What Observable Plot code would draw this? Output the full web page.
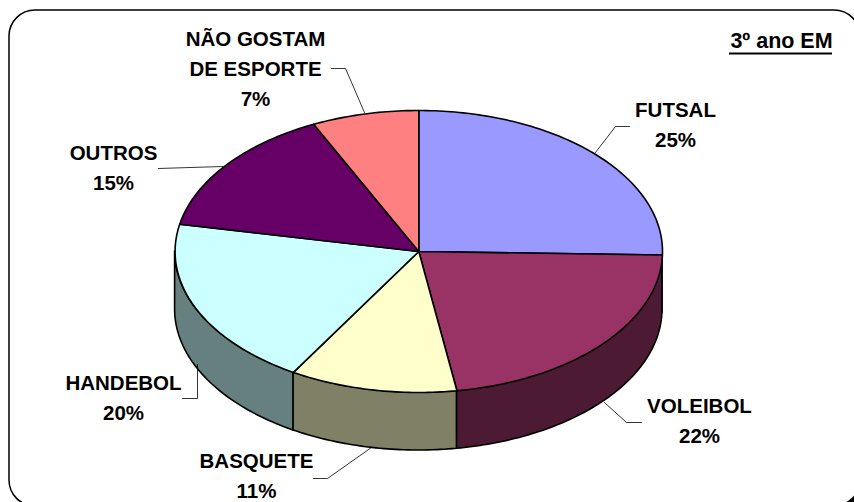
<!DOCTYPE html>
<html lang="pt">
<head>
<meta charset="utf-8">
<style>html,body{margin:0;padding:0;background:#fff;overflow:hidden}svg{display:block}</style>
<script src="https://cdn.jsdelivr.net/npm/d3@7"></script>
<script src="https://cdn.jsdelivr.net/npm/@observablehq/plot@0.6"></script>
</head>
<body>
<div id="chart"></div>
<script>
const categories = ["FUTSAL", "VOLEIBOL", "BASQUETE", "HANDEBOL", "OUTROS", "NÃO GOSTAM\nDE ESPORTE"];
const shares = [25.4, 22.1, 11.1, 19.5, 14.8, 7.1];
const topColors = ["#9999FF", "#993366", "#FFFFCC", "#CCFFFF", "#660066", "#FF8080"];
const sideColors = ["#4D4D80", "#4D1A33", "#808066", "#668080", "#330033", "#804040"];
const labelX = [675, 699, 256, 123, 113, 255];
const labelY = [122, 417.5, 473, 394.5, 164.5, 65.5];
const leaders = [
  [[629,126],[615,126],[595,152]],
  [[641,422],[626,422],[604,402]],
  [[313,478],[327,478],[371,447]],
  [[182,398],[197,398],[197,364]],
  [[158,168],[222,166]],
  [[331,68],[345,68],[364,112]]
];
const cx = 418.3, cy = 251, rx = 243.7, ry = 141, depth = 58;

const pt = (a) => [cx + rx * Math.sin(a), cy - ry * Math.cos(a)];
const total = d3.sum(shares);
const cum = d3.cumsum(shares);
const tops = [], sides = [];
categories.forEach((name, i) => {
  const a0 = (i ? cum[i - 1] : 0) / total * 2 * Math.PI;
  const a1 = cum[i] / total * 2 * Math.PI;
  const color = topColors[i], side = sideColors[i];
  const arc = (s, e) => {
    const n = Math.max(2, Math.ceil((e - s) * 60));
    return d3.range(n + 1).map(k => pt(s + (e - s) * k / n));
  };
  const ring = [[cx, cy], ...arc(a0, a1), [cx, cy]];
  ring.forEach(([x, y]) => tops.push({name, x, y, color}));
  const s = Math.max(a0, Math.PI / 2), e = Math.min(a1, 3 * Math.PI / 2);
  if (e > s) arc(s, e).forEach(([x, y]) => sides.push({name, x, y1: y, y2: y + depth, color: side}));
});
const leaderRows = leaders.flatMap((pts, i) => pts.map(([x, y]) => ({i, x, y})));
const labels = categories.map((name, i) => ({
  text: `${name}\n${Math.round(shares[i])}%`, x: labelX[i], y: labelY[i]
}));

const font = {fontFamily: "Liberation Sans, Arial, sans-serif", fontWeight: "bold", fontSize: 20.5, fill: "#000"};

const plot = Plot.plot({
  width: 854, height: 502, margin: 0,
  style: {background: "#fff"},
  x: {axis: null, domain: [0, 854], range: [0, 854]},
  y: {axis: null, domain: [0, 502], range: [0, 502]},
  marks: [
    Plot.rect([0], {x1: 15, x2: 866, y1: 16, y2: 512, rx: 26, fill: "#000"}),
    Plot.rect([0], {x1: 9, x2: 860, y1: 10, y2: 506, rx: 26, fill: "#fff", stroke: "#000", strokeWidth: 1.5}),
    Plot.area(sides, {x1: "x", y1: "y1", y2: "y2", z: "name", fill: "color", stroke: "#000", strokeWidth: 1.6}),
    Plot.line(tops, {x: "x", y: "y", z: "name", fill: "color", stroke: "#000", strokeWidth: 1.6, curve: "linear", strokeLinejoin: "round"}),
    Plot.line(leaderRows, {x: "x", y: "y", z: "i", stroke: "#000", strokeWidth: 0.8}),
    Plot.text(labels, {x: "x", y: "y", text: "text", lineHeight: 1.47, ...font}),
    Plot.text(["3º ano EM"], {x: [781], y: [41], text: d => d, ...font, fontSize: 21.5}),
    Plot.ruleY([53], {x1: 729, x2: 832, stroke: "#000", strokeWidth: 2})
  ]
});
document.getElementById("chart").append(plot);
</script>
</body>
</html>
